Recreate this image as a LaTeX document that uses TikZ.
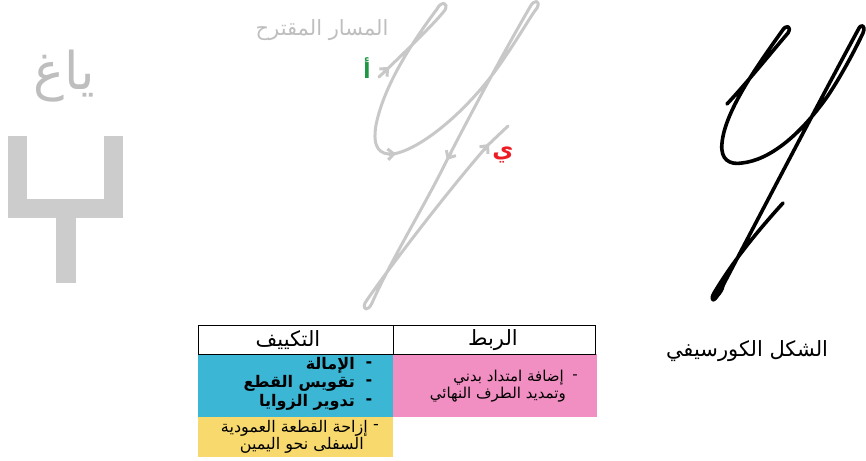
\documentclass[tikz,border=0pt]{standalone}
\usepackage{fontspec}
\usetikzlibrary{arrows.meta}
\TeXXeTstate=1
\newfontfamily\arabicfont[Script=Arabic]{DejaVu Sans}
\definecolor{pathgray}{RGB}{200,200,200}
\definecolor{txtgray}{RGB}{190,190,190}
\definecolor{shapegray}{RGB}{204,204,204}
\definecolor{cellblue}{RGB}{59,182,212}
\definecolor{cellpink}{RGB}{241,143,194}
\definecolor{cellyellow}{RGB}{248,217,110}
\definecolor{lblgreen}{RGB}{30,150,70}
\definecolor{lblred}{RGB}{237,28,36}
\tikzset{
  gpath/.style={draw=pathgray, line width=3pt, line cap=round, line join=round},
  gtip/.style={gpath, -{Straight Barb[length=6pt,width=11pt]}},
  bpath/.style={draw=black, line width=3.6pt, line cap=round, line join=round},
  ar/.style={inner sep=0pt, font=\arabicfont},
  headcell/.style={draw=black, line width=0.9pt},
}
\begin{document}
\begin{tikzpicture}[x=1pt,y=-1pt]
\useasboundingbox (0,0) rectangle (866,460);
% left gray letter shape
\fill[shapegray] (8,136) rectangle (27,218);
\fill[shapegray] (104,136) rectangle (123,218);
\fill[shapegray] (8,199) rectangle (123,218);
\fill[shapegray] (56,218) rectangle (76,283);
\node[ar, text=txtgray, font=\arabicfont\fontsize{52}{56}\selectfont] (ghain) at (64,76) {\beginR ياغ\endR};

% proposed path (gray)
\node[ar, text=txtgray, font=\arabicfont\fontsize{21}{25}\selectfont] (plabel) at (322,30) {\beginR المسار المقترح\endR};
\path[gpath]
  (379,77) .. controls (402,55) and (436,22) .. (445,10)
  .. controls (449,2) and (441,1) .. (437,9)
  .. controls (420,32) and (385,80) .. (376,125)
  .. controls (372,148) and (380,155) .. (393,154)
  .. controls (420,150) and (470,110) .. (505,57)
  .. controls (520,35) and (532,14) .. (537,8)
  .. controls (541,0) and (534,-1) .. (530,7)
  .. controls (505,50) and (470,115) .. (447,160)
  .. controls (425,205) and (390,262) .. (372,303)
  .. controls (368,312) and (362,310) .. (365,303)
  .. controls (378,283) and (440,200) .. (488,145)
  -- (508,126);
\draw[gtip] (384,72) -- (389,67);
\draw[gtip] (389,154.3) -- (396,153.8);
\draw[gtip] (451,153) -- (447,160);
\draw[gtip] (484,150) -- (489,144);
\node[ar, text=lblgreen, font=\arabicfont\bfseries\fontsize{21}{24}\selectfont] (alef) at (367,68) {\beginR أ\endR};
\node[ar, text=lblred, font=\arabicfont\bfseries\fontsize{23}{26}\selectfont] (ya) at (503,155) {\beginR ي\endR};

% cursive shape (black)
\path[bpath]
  (727,104) .. controls (745,85) and (775,48) .. (788,33)
  .. controls (792,26) and (786,24) .. (782,31)
  .. controls (760,62) and (725,110) .. (722,143)
  .. controls (720,160) and (730,165) .. (742,163)
  .. controls (770,160) and (800,135) .. (827,97)
  .. controls (840,78) and (855,50) .. (863,33)
  .. controls (866,25) and (861,23) .. (858,30)
  .. controls (820,100) and (760,215) .. (719,293)
  .. controls (713,304) and (710,300) .. (714,293)
  .. controls (728,270) and (745,245) .. (783,203);
\fill[black, rotate around={60:(719,290)}] (719,290) ellipse (9pt and 4pt);
\node[ar, text=black, font=\arabicfont\fontsize{21}{25}\selectfont] (cursive) at (747,351) {\beginR الشكل الكورسيفي\endR};

% table
\fill[cellblue] (198,354) rectangle (393,417);
\fill[cellpink] (393,354) rectangle (597,417);
\fill[cellyellow] (198,417) rectangle (393,457);
\draw[headcell] (198,325) rectangle (393,354);
\draw[headcell] (393,325) rectangle (595,354);
\node[ar, font=\arabicfont\fontsize{21}{25}\selectfont] (hadapt) at (288,340) {\beginR التكييف\endR};
\node[ar, font=\arabicfont\fontsize{21}{25}\selectfont] (hlink) at (493,340) {\beginR الربط\endR};

\begin{scope}[every node/.style={ar, font=\arabicfont\bfseries\fontsize{16}{19}\selectfont}]
\node (d1) at (369,365) {-};
\node[anchor=east] (b1) at (355,365) {\beginR الإمالة\endR};
\node (d2) at (369,383) {-};
\node[anchor=east] (b2) at (355,383) {\beginR تقويس القطع\endR};
\node (d3) at (369,402) {-};
\node[anchor=east] (b3) at (355,402) {\beginR تدوير الزوايا\endR};
\end{scope}

\begin{scope}[every node/.style={ar, font=\arabicfont\fontsize{15}{18}\selectfont}]
\node (d4) at (575,377) {-};
\node[anchor=east] (p1) at (564,378) {\beginR إضافة امتداد بدني\endR};
\node[anchor=east] (p2) at (566,395) {\beginR وتمديد الطرف النهائي\endR};
\end{scope}

\begin{scope}[every node/.style={ar, font=\arabicfont\fontsize{16}{19}\selectfont}]
\node (d5) at (376,427) {-};
\node[anchor=east] (y1) at (368,428) {\beginR إزاحة القطعة العمودية\endR};
\node[anchor=east] (y2) at (364,445) {\beginR السفلى نحو اليمين\endR};
\end{scope}
\end{tikzpicture}
\end{document}
